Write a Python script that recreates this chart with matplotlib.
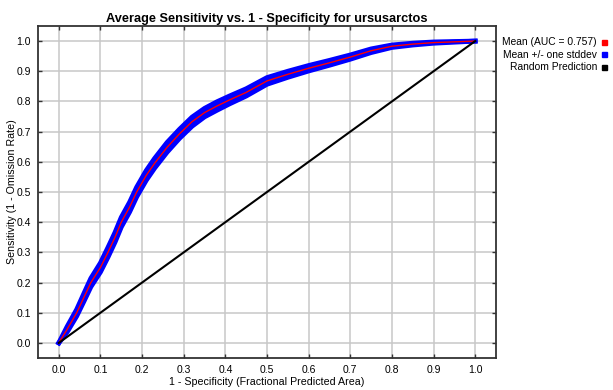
import matplotlib
matplotlib.use("Agg")
import matplotlib.pyplot as plt
import numpy as np
from matplotlib.patches import Rectangle

plt.rcParams['font.family'] = ['Liberation Sans', 'DejaVu Sans']

# mean ROC curve
fpa = [0.0, 0.02, 0.043, 0.06, 0.077, 0.10, 0.118, 0.135, 0.15, 0.17, 0.187,
       0.21, 0.23, 0.26, 0.29, 0.32, 0.35, 0.38, 0.41, 0.45, 0.50, 0.55,
       0.60, 0.65, 0.70, 0.75, 0.80, 0.85, 0.90, 1.0]
sens = [0.0, 0.045, 0.10, 0.15, 0.20, 0.25, 0.30, 0.35, 0.40, 0.45, 0.50,
        0.555, 0.595, 0.648, 0.693, 0.733, 0.763, 0.785, 0.805, 0.83, 0.868, 0.89,
        0.91, 0.928, 0.947, 0.968, 0.983, 0.99, 0.995, 1.0]
# half width of the +/- one stddev band
sd = [0.0, 0.009, 0.011, 0.013, 0.014, 0.015, 0.016, 0.016, 0.016, 0.016, 0.016,
      0.016, 0.016, 0.016, 0.015, 0.015, 0.014, 0.014, 0.013, 0.012, 0.011, 0.010,
      0.009, 0.008, 0.007, 0.006, 0.004, 0.003, 0.002, 0.0]
rand_x = [0.0, 1.0]
rand_y = [0.0, 1.0]

title = "Average Sensitivity vs. 1 - Specificity for ursusarctos"
legend_labels = ["Mean (AUC = 0.757)", "Mean +/- one stddev", "Random Prediction"]
legend_colors = ["#ff0000", "#0000ff", "#000000"]

fpa = np.array(fpa)
sens = np.array(sens)
sd = np.array(sd)

fig = plt.figure(figsize=(6.13, 3.9), dpi=100)
ax = fig.add_axes([38 / 613, 1 - 358 / 390, (496 - 38) / 613, (358 - 26) / 390])

ax.fill_between(fpa, sens - sd, sens + sd, color='#0000ff', lw=0, zorder=2)
ax.plot(fpa, sens + sd, color='#0000ff', lw=3.5, zorder=2, solid_joinstyle='round')
ax.plot(fpa, sens - sd, color='#0000ff', lw=3.5, zorder=2, solid_joinstyle='round')
ax.plot(fpa, sens, color='#ff0000', lw=1.0, zorder=3)
ax.plot(rand_x, rand_y, color='#000000', lw=1.5, zorder=3)

ax.set_xlim(-0.05, 1.05)
ax.set_ylim(-0.05, 1.05)
ticks = np.round(np.arange(0, 1.01, 0.1), 1)
ax.set_xticks(ticks)
ax.set_yticks(ticks)
ax.set_xticklabels(["%.1f" % t for t in ticks])
ax.set_yticklabels(["%.1f" % t for t in ticks])
ax.tick_params(direction='in', length=3, width=1, color='#333333',
               labelsize=7.5, top=True, right=True, pad=5)
ax.grid(True, color='#c8c8c8', lw=1.1)
ax.set_axisbelow(True)
for s in ax.spines.values():
    s.set_color('#333333')
    s.set_linewidth(1.3)

ax.set_title(title, fontsize=9.2, fontweight='bold', pad=3)
ax.set_xlabel("1 - Specificity (Fractional Predicted Area)", fontsize=7.7)
ax.set_ylabel("Sensitivity (1 - Omission Rate)", fontsize=7.7)
ax.xaxis.set_label_coords(0.5, -0.058)
ax.yaxis.set_label_coords(-0.046, 0.5)

# legend on the right: text then small coloured square
for i, (lab, col) in enumerate(zip(legend_labels, legend_colors)):
    yy = 1 - (42 + i * 12.5) / 390
    fig.text(597 / 613, yy, lab, ha='right', va='center', fontsize=7.4)
    fig.patches.append(Rectangle((602 / 613, yy - 2.5 / 390), 5 / 613, 5 / 390,
                                 transform=fig.transFigure, color=col, figure=fig))

fig.savefig("out.png", dpi=100)
